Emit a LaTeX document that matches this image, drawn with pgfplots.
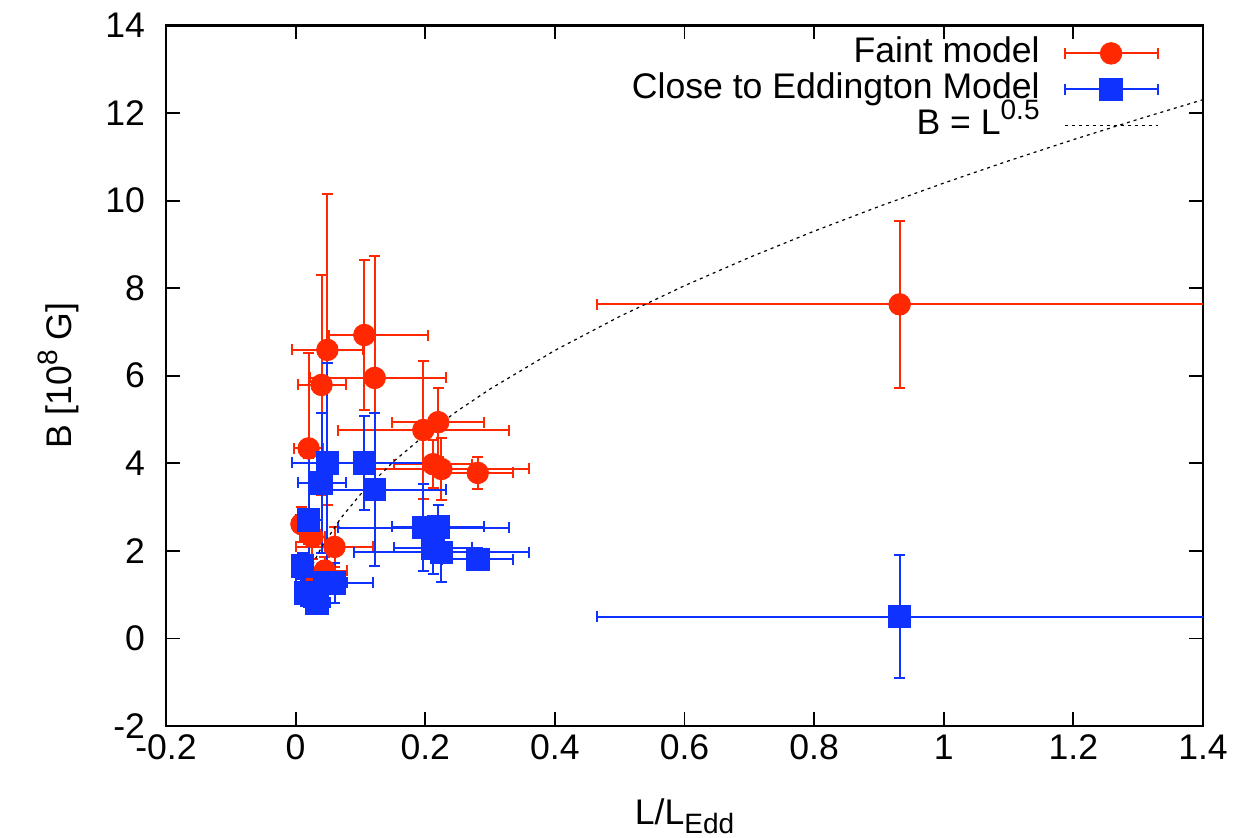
\documentclass[border=0pt]{standalone}
\usepackage{fontspec}
\setmainfont{Liberation Sans}
\usepackage{pgfplots}
\usepackage{pgfplotstable}
\pgfplotsset{compat=1.18}
\definecolor{fred}{RGB}{255,40,0}
\definecolor{fblue}{RGB}{15,50,255}

\pgfplotstableread{
x y exm exp eym eyp
0.932 7.63 0.467 0.600 1.90 1.90
0.106 6.93 0.054 0.098 1.71 1.71
0.049 6.59 0.054 0.055 3.55 3.55
0.122 5.95 0.100 0.110 2.78 2.78
0.040 5.79 0.037 0.037 2.51 2.51
0.020 4.34 0.022 0.022 2.19 2.19
0.197 4.76 0.132 0.132 1.58 1.58
0.220 4.94 0.071 0.071 0.79 0.79
0.212 3.98 0.060 0.060 0.55 0.55
0.225 3.87 0.135 0.135 0.70 0.70
0.281 3.78 0.055 0.055 0.36 0.36
0.009 2.61 0.010 0.010 0.40 0.40
0.026 2.32 0.020 0.020 0.50 0.50
0.060 2.09 0.059 0.059 0.45 0.45
0.045 1.55 0.035 0.035 0.30 0.30
0.033 1.35 0.020 0.020 0.25 0.25
}\faint

\pgfplotstableread{
x y exm exp eym eyp
0.932 0.50 0.467 0.600 1.40 1.40
0.106 4.01 0.054 0.098 1.07 1.07
0.049 4.01 0.054 0.055 2.29 2.29
0.122 3.40 0.100 0.110 1.75 1.75
0.040 3.55 0.037 0.037 1.61 1.61
0.020 2.71 0.020 0.020 1.42 1.42
0.197 2.53 0.132 0.132 1.00 1.00
0.220 2.55 0.071 0.071 0.50 0.50
0.212 2.07 0.060 0.060 0.60 0.60
0.225 1.97 0.135 0.135 0.68 0.68
0.281 1.81 0.055 0.055 0.25 0.25
0.010 1.66 0.010 0.010 0.30 0.30
0.016 1.04 0.015 0.015 0.30 0.30
0.033 0.81 0.020 0.020 0.20 0.20
0.045 1.27 0.035 0.035 0.40 0.40
0.060 1.27 0.059 0.059 0.45 0.45
}\edd

\pgfplotstableread{
x y
0.008 0.930
0.010 1.040
0.020 1.471
0.030 1.801
0.040 2.080
0.070 2.752
0.100 3.289
0.150 4.028
0.200 4.651
0.250 5.200
0.300 5.696
0.400 6.578
0.500 7.354
0.600 8.056
0.700 8.701
0.800 9.302
0.900 9.866
1.000 10.400
1.100 10.908
1.200 11.393
1.300 11.858
1.400 12.305
}\curve

\begin{document}
\begin{tikzpicture}
\begin{axis}[name=ax, scale only axis, width=518.5pt, height=350.25pt,
  xmin=-0.2, xmax=1.4, ymin=-2, ymax=14,
  xtick={-0.2,0,0.2,0.4,0.6,0.8,1,1.2,1.4},
  xticklabels={-0.2,0,0.2,0.4,0.6,0.8,1,1.2,1.4},
  ytick={-2,0,2,4,6,8,10,12,14},
  yticklabels={-2,0,2,4,6,8,10,12,14},
  tick align=inside, major tick length=7pt,
  axis line style={line width=1.3pt},
  tick style={line width=0.9pt, black},
  font=\fontsize{17.8}{21}\selectfont,
  yticklabel style={xshift=-7pt},
  xticklabel style={yshift=-1pt},
  every axis y label/.style={at={(rel axis cs:0,0.5)}, rotate=90, anchor=base, yshift=47pt},
  every axis x label/.style={at={(rel axis cs:0.5,0)}, anchor=base, yshift=-49.5pt},
  ylabel={B [10\raisebox{0.42em}{\fontsize{14}{14}\selectfont 8} G]},
  xlabel={L/L\raisebox{-0.25em}{\fontsize{14}{14}\selectfont Edd}},
  legend plot pos=right,
  legend cell align=right,
  legend style={draw=none, fill=none, at={(rel axis cs:1,1)}, anchor=north east,
    xshift=-19pt, yshift=-3.25pt, nodes={inner sep=0pt, text height=13pt, text depth=4pt},
    /tikz/column sep=12pt, /tikz/row sep=1pt},
]
\addplot[color=fred, only marks, mark=*, mark size=5.4pt, mark options={fill=fred, draw=fred},
  legend image code/.code={
    \draw[fred, line width=1pt] (0pt,0pt) -- (46.5pt,0pt) (0pt,-2.75pt) -- (0pt,2.75pt) (46.5pt,-2.75pt) -- (46.5pt,2.75pt);
    \fill[fred] (23.25pt,0pt) circle (5.4pt);},
  error bars/.cd, x dir=both, x explicit, y dir=both, y explicit,
  error bar style={line width=1pt, fred},
  error mark options={rotate=90, line width=1pt, mark size=2.75pt, fred}]
  table[x=x, y=y, x error plus=exp, x error minus=exm, y error plus=eyp, y error minus=eym] {\faint};
\addlegendentry{Faint model}
\addplot[color=fblue, only marks, mark=square*, mark size=5.6pt, mark options={fill=fblue, draw=fblue},
  legend image code/.code={
    \draw[fblue, line width=1pt] (0pt,0pt) -- (46.5pt,0pt) (0pt,-2.75pt) -- (0pt,2.75pt) (46.5pt,-2.75pt) -- (46.5pt,2.75pt);
    \fill[fblue] (17.65pt,-5.6pt) rectangle (28.85pt,5.6pt);},
  error bars/.cd, x dir=both, x explicit, y dir=both, y explicit,
  error bar style={line width=1pt, fblue},
  error mark options={rotate=90, line width=1pt, mark size=2.75pt, fblue}]
  table[x=x, y=y, x error plus=exp, x error minus=exm, y error plus=eyp, y error minus=eym] {\edd};
\addlegendentry{Close to Eddington Model}
\addplot[black, line width=0.6pt, dash pattern=on 1.5pt off 2pt, no markers,
  legend image code/.code={
    \draw[black, line width=0.6pt, dash pattern=on 1.5pt off 2pt] (0pt,0pt) -- (46.5pt,0pt);}]
  table[x=x, y=y] {\curve};
\addlegendentry{B = L\raisebox{0.42em}{\fontsize{14}{14}\selectfont 0.5}}
\end{axis}
\pgfresetboundingbox
\path[use as bounding box] ([shift={(-83pt,-56pt)}]ax.south west) rectangle ([shift={(15pt,12.75pt)}]ax.north east);
\end{tikzpicture}
\end{document}
